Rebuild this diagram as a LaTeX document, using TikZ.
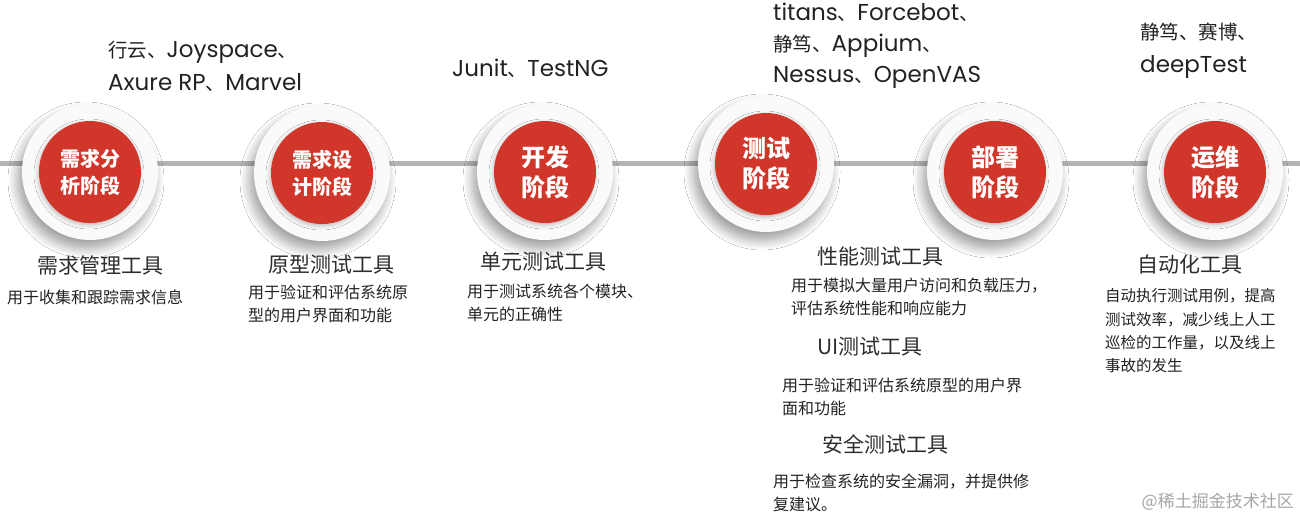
\documentclass[tikz,border=0pt]{standalone}
\usepackage{fontspec}
\setmainfont{Noto Sans CJK SC}
\newfontfamily\latf[Scale=1.18]{Poppins}
\usetikzlibrary{shadows.blur}
\definecolor{stagered}{RGB}{208,55,42}
\definecolor{inkgray}{RGB}{34,34,34}
\definecolor{headgray}{RGB}{45,45,45}
\definecolor{trackgray}{RGB}{180,180,180}

\begin{document}
\begin{tikzpicture}[x=1pt,y=-1pt,
  ring/.style={circle,minimum size=136pt,inner sep=0,fill=gray!4,
    blur shadow={shadow xshift=-4pt,shadow yshift=-8pt,shadow blur radius=10pt,
      shadow opacity=40,shadow blur steps=14}},
  stage/.style={circle,minimum size=102pt,inner sep=0,fill=stagered,text=white,
    align=center,font=\bfseries\fontsize{20}{27}\selectfont,
    blur shadow={shadow xshift=-1pt,shadow yshift=-2pt,shadow blur radius=4pt,
      shadow opacity=25}},
  bigstage/.style={stage,font=\bfseries\fontsize{24}{30}\selectfont},
  toolset/.style={anchor=west,align=left,inner sep=0,text=inkgray,
    font=\fontsize{19.5}{33}\selectfont},
  toolhead/.style={inner sep=0,text=headgray,font=\fontsize{21}{26}\selectfont},
  tooldesc/.style={anchor=west,align=left,inner sep=0,text=inkgray,
    font=\fontsize{16}{23}\selectfont},
  track/.style={line width=5pt,trackgray}]
    % canvas
    \fill[white] (0,0) rectangle (1300,520);
    \useasboundingbox (0,0) rectangle (1300,520);
    % the time line
    \coordinate (lineL) at (0,163);
    \coordinate (lineR) at (1300,163);
    \draw[track] (lineL) -- (lineR);
    % stages
    \node[ring] (r1) at (90,172) {};
    \node[stage] (s1) at (r1) {需求分\\析阶段};
    \node[ring] (r2) at (322,173) {};
    \node[stage] (s2) at (r2) {需求设\\计阶段};
    \node[ring] (r3) at (545,172) {};
    \node[bigstage] (s3) at (r3) {开发\\阶段};
    \node[ring] (r4) at (766,164) {};
    \node[bigstage] (s4) at (r4) {测试\\阶段};
    \node[ring] (r5) at (995,172) {};
    \node[bigstage] (s5) at (r5) {部署\\阶段};
    \node[ring] (r6) at (1215,172) {};
    \node[bigstage] (s6) at (r6) {运维\\阶段};
    % tools above the line
    \node[toolset] (t1) at (108,66.5) {行云、{\latf Joyspace}、\\{\latf Axure RP}、{\latf Marvel}};
    \node[toolset] (t3) at (452,68) {{\latf Junit}、{\latf TestNG}};
    \node[toolset,font=\fontsize{19.5}{31}\selectfont] (t4) at (773,46)
      {{\latf titans}、{\latf Forcebot}、\\静笃、{\latf Appium}、\\{\latf Nessus}、{\latf OpenVAS}};
    \node[toolset] (t6) at (1140,50.5) {静笃、赛博、\\{\latf deepTest}};
    % tool kinds below the line
    \node[toolhead] (h1) at (100,265) {需求管理工具};
    \node[tooldesc] (d1) at (7,297) {用于收集和跟踪需求信息};
    \node[toolhead] (h2) at (331,265) {原型测试工具};
    \node[tooldesc] (d2) at (248,303.5) {用于验证和评估系统原\\型的用户界面和功能};
    \node[toolhead] (h3) at (543,262) {单元测试工具};
    \node[tooldesc] (d3) at (467,302.5) {用于测试系统各个模块、\\单元的正确性};
    \node[toolhead] (h4a) at (880,257) {性能测试工具};
    \node[tooldesc] (d4a) at (791,296.5) {用于模拟大量用户访问和负载压力，\\评估系统性能和响应能力};
    \node[toolhead] (h4b) at (870,347) {UI测试工具};
    \node[tooldesc] (d4b) at (782,397) {用于验证和评估系统原型的用户界\\面和功能};
    \node[toolhead] (h4c) at (885,444) {安全测试工具};
    \node[tooldesc] (d4c) at (773,493) {用于检查系统的安全漏洞，并提供修\\复建议。};
    \node[toolhead] (h6) at (1190,265) {自动化工具};
    \node[tooldesc,font=\fontsize{15.5}{23.3}\selectfont] (d6) at (1105,331)
      {自动执行测试用例，提高\\测试效率，减少线上人工\\巡检的工作量，以及线上\\事故的发生};
    % watermark
    \node[anchor=east,inner sep=0,text=gray!70,font=\fontsize{17}{20}\selectfont] (wm)
      at (1294,502) {@稀土掘金技术社区};
\end{tikzpicture}
\end{document}
